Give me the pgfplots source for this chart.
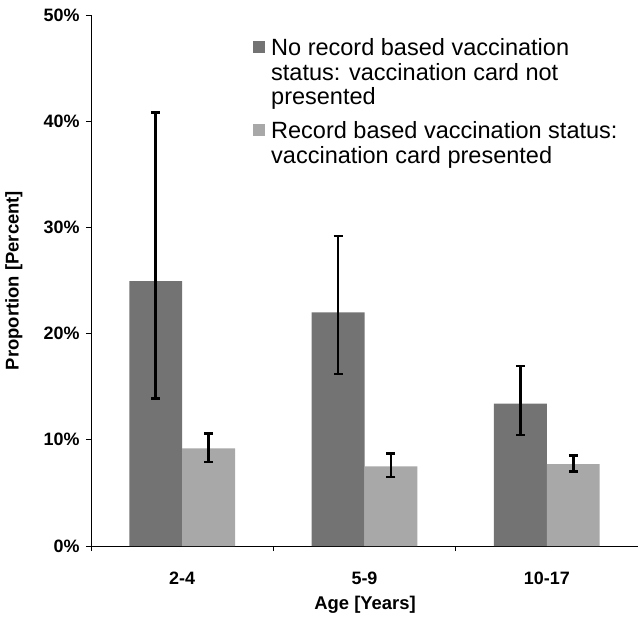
\documentclass[border=0pt]{standalone}
\usepackage{fontspec}
\setmainfont{Liberation Sans}
\usepackage{pgfplots}
\pgfplotsset{compat=1.18}
\definecolor{darkbar}{RGB}{115,115,115}
\definecolor{lightbar}{RGB}{168,168,168}
\begin{document}
\begin{tikzpicture}
\begin{axis}[
  scale only axis, width=547bp, height=531bp,
  xmin=-0.5, xmax=2.5, ymin=0, ymax=50,
  axis x line*=bottom, axis y line*=left,
  axis line style={line width=0.8bp},
  ybar=0pt, bar width=0.29,
  xtick={-0.5,0.5,1.5,2.5}, xticklabels={2-4,5-9,10-17,},
  xticklabel style={xshift=91.17bp, yshift=-17bp},
  ytick={0,10,20,30,40,50},
  yticklabels={0\%,10\%,20\%,30\%,40\%,50\%},
  yticklabel style={xshift=-3bp},
  tick align=outside, major tick length=5bp,
  tick style={line width=0.8bp, black},
  ticklabel style={font=\bfseries\fontsize{18}{20}\selectfont},
  xlabel={Age [Years]}, ylabel={Proportion [Percent]},
  every axis x label/.style={at={(axis description cs:0.501,-0.111)}, anchor=center, font=\bfseries\fontsize{18.5}{20}\selectfont},
  every axis y label/.style={at={(axis description cs:-0.141,0.5)}, rotate=90, anchor=center, font=\bfseries\fontsize{18.5}{20}\selectfont},
  legend cell align=left,
  legend style={draw=none, fill=none, at={(0.2907,0.967)}, anchor=north west,
    font=\fontsize{23.6}{26.5}\selectfont, row sep=59bp},
  legend image code/.code={\fill[#1] (0bp,-6bp) rectangle (12bp,6bp); \path (16bp,0bp);},
  error bars/error bar style={line width=2.7bp, black},
  error bars/error mark options={line width=2.7bp, mark size=4.5bp, black, rotate=90},
]
\addplot[fill=darkbar, draw=none, error bars/.cd, y dir=both, y explicit]
  coordinates {
    (0,24.95) += (0,15.85) -= (0,11.05)
    (1,22.0)  += (0,7.2)   -= (0,5.8)
    (2,13.4)  += (0,3.55)  -= (0,2.95)
  };
\addlegendentry{\begin{tabular}[t]{@{}l@{}}No record based vaccination\\[-1.5bp]status: vaccination card not\\[-1.5bp]presented\end{tabular}}
\addplot[fill=lightbar, draw=none, error bars/.cd, y dir=both, y explicit]
  coordinates {
    (0,9.2) += (0,1.4) -= (0,1.3)
    (1,7.5) += (0,1.2) -= (0,1.0)
    (2,7.7) += (0,0.8) -= (0,0.7)
  };
\addlegendentry{\begin{tabular}[t]{@{}l@{}}Record based vaccination status:\\[-1.5bp]vaccination card presented\end{tabular}}
\end{axis}
\pgfresetboundingbox
\path (current axis.south west) ++(-91bp,-76bp) rectangle ++(638bp,622bp);
\end{tikzpicture}
\end{document}
